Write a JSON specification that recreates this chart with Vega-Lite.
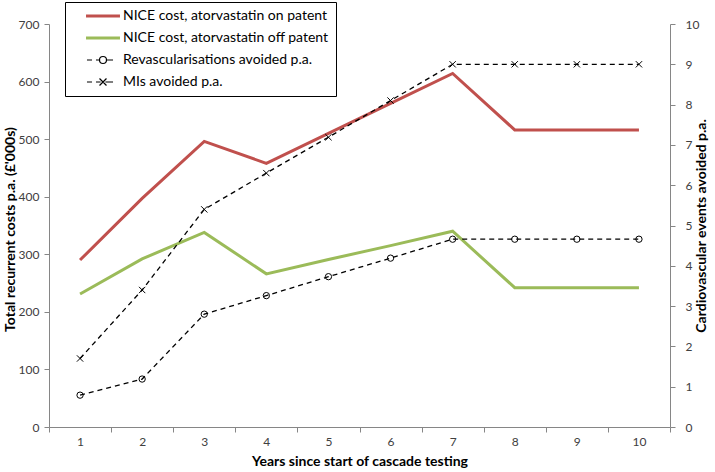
{
  "$schema": "https://vega.github.io/schema/vega-lite/v6.json",
  "width": 621,
  "height": 403,
  "autosize": "none",
  "padding": {"left": 49, "top": 24, "right": 45, "bottom": 45},
  "background": "white",
  "config": {
    "view": {"stroke": null},
    "font": "Lato",
    "axis": {
      "grid": false,
      "domainColor": "#868686",
      "tickColor": "#868686",
      "tickSize": 5,
      "labelFont": "Lato",
      "labelFontSize": 12,
      "labelColor": "#404040",
      "titleFont": "Lato",
      "titleFontSize": 14,
      "titleFontWeight": "bold",
      "titleColor": "#000000"
    }
  },
  "datasets": {
    "costs": [
      {"year": 1, "series": "NICE cost, atorvastatin on patent", "value": 290},
      {"year": 2, "series": "NICE cost, atorvastatin on patent", "value": 397},
      {"year": 3, "series": "NICE cost, atorvastatin on patent", "value": 496},
      {"year": 4, "series": "NICE cost, atorvastatin on patent", "value": 458},
      {"year": 5, "series": "NICE cost, atorvastatin on patent", "value": 510},
      {"year": 6, "series": "NICE cost, atorvastatin on patent", "value": 562},
      {"year": 7, "series": "NICE cost, atorvastatin on patent", "value": 614},
      {"year": 8, "series": "NICE cost, atorvastatin on patent", "value": 516},
      {"year": 9, "series": "NICE cost, atorvastatin on patent", "value": 516},
      {"year": 10, "series": "NICE cost, atorvastatin on patent", "value": 516},
      {"year": 1, "series": "NICE cost, atorvastatin off patent", "value": 231},
      {"year": 2, "series": "NICE cost, atorvastatin off patent", "value": 292},
      {"year": 3, "series": "NICE cost, atorvastatin off patent", "value": 338},
      {"year": 4, "series": "NICE cost, atorvastatin off patent", "value": 266},
      {"year": 5, "series": "NICE cost, atorvastatin off patent", "value": 291},
      {"year": 6, "series": "NICE cost, atorvastatin off patent", "value": 315},
      {"year": 7, "series": "NICE cost, atorvastatin off patent", "value": 340},
      {"year": 8, "series": "NICE cost, atorvastatin off patent", "value": 242},
      {"year": 9, "series": "NICE cost, atorvastatin off patent", "value": 242},
      {"year": 10, "series": "NICE cost, atorvastatin off patent", "value": 242}
    ],
    "events": [
      {"year": 1, "series": "Revascularisations avoided p.a.", "value": 0.79},
      {"year": 2, "series": "Revascularisations avoided p.a.", "value": 1.19},
      {"year": 3, "series": "Revascularisations avoided p.a.", "value": 2.8},
      {"year": 4, "series": "Revascularisations avoided p.a.", "value": 3.26},
      {"year": 5, "series": "Revascularisations avoided p.a.", "value": 3.73},
      {"year": 6, "series": "Revascularisations avoided p.a.", "value": 4.19},
      {"year": 7, "series": "Revascularisations avoided p.a.", "value": 4.66},
      {"year": 8, "series": "Revascularisations avoided p.a.", "value": 4.66},
      {"year": 9, "series": "Revascularisations avoided p.a.", "value": 4.66},
      {"year": 10, "series": "Revascularisations avoided p.a.", "value": 4.66},
      {"year": 1, "series": "MIs avoided p.a.", "value": 1.7},
      {"year": 2, "series": "MIs avoided p.a.", "value": 3.4},
      {"year": 3, "series": "MIs avoided p.a.", "value": 5.4},
      {"year": 4, "series": "MIs avoided p.a.", "value": 6.3},
      {"year": 5, "series": "MIs avoided p.a.", "value": 7.19},
      {"year": 6, "series": "MIs avoided p.a.", "value": 8.1},
      {"year": 7, "series": "MIs avoided p.a.", "value": 9.0},
      {"year": 8, "series": "MIs avoided p.a.", "value": 9.0},
      {"year": 9, "series": "MIs avoided p.a.", "value": 9.0},
      {"year": 10, "series": "MIs avoided p.a.", "value": 9.0}
    ]
  },
  "encoding": {
    "x": {
      "field": "year",
      "type": "ordinal",
      "scale": {"type": "band", "paddingInner": 0, "paddingOuter": 0},
      "axis": {
        "title": "Years since start of cascade testing",
        "labelAngle": 0,
        "tickBand": "extent",
        "labelPadding": 4,
        "titlePadding": 7
      }
    }
  },
  "layer": [
    {
      "data": {"name": "costs"},
      "mark": {"type": "line", "strokeWidth": 3},
      "encoding": {
        "y": {
          "field": "value",
          "type": "quantitative",
          "scale": {"domain": [0, 700], "nice": false},
          "axis": {
            "title": "Total recurrent costs p.a. (£'000s)",
            "orient": "left",
            "values": [0, 100, 200, 300, 400, 500, 600, 700],
            "labelPadding": 5,
            "titleX": -32,
            "titleY": 205,
            "titleBaseline": "bottom",
            "titleAlign": "center",
            "titleAngle": 270
          }
        },
        "color": {
          "field": "series",
          "type": "nominal",
          "sort": null,
          "scale": {
            "domain": ["NICE cost, atorvastatin on patent", "NICE cost, atorvastatin off patent", "Revascularisations avoided p.a.", "MIs avoided p.a."],
            "range": ["#C0504D", "#9BBB59", "#000000", "#000000"]
          },
          "legend": {
            "title": null,
            "orient": "none",
            "legendX": 16,
            "legendY": -22,
            "strokeColor": "#000000",
            "fillColor": "white",
            "padding": 7,
            "symbolOffset": 24,
            "labelOffset": 13,
            "labelFont": "Lato",
            "labelFontSize": 14,
            "labelColor": "#000000",
            "labelLimit": 400,
            "rowPadding": 8,
            "symbolSize": 144,
            "encode": {
              "symbols": {
                "update": {
                  "shape": {"signal": "datum.value === 'Revascularisations avoided p.a.' ? 'M-2.67,0H-1.83M-1.17,0H-0.58M0.58,0H1.67M0.58,0A0.58,0.58,0,1,1,-0.58,0A0.58,0.58,0,1,1,0.58,0' : datum.value === 'MIs avoided p.a.' ? 'M-2.67,0H-1.83M-1.17,0H-0.4M0.4,0H1.67M-0.58,-0.58L0.58,0.58M-0.58,0.58L0.58,-0.58' : 'M-2.83,0H2.83'"},
                  "strokeWidth": {"signal": "datum.value === 'Revascularisations avoided p.a.' || datum.value === 'MIs avoided p.a.' ? 1.2 : 3"},
                  "fill": {"value": "transparent"},
                  "strokeDash": {"value": [100, 0]}
                }
              }
            }
          }
        }
      }
    },
    {
      "data": {"name": "events"},
      "encoding": {
        "y": {
          "field": "value",
          "type": "quantitative",
          "scale": {"domain": [0, 10], "nice": false},
          "axis": {
            "title": "Cardiovascular events avoided p.a.",
            "orient": "right",
            "values": [0, 1, 2, 3, 4, 5, 6, 7, 8, 9, 10],
            "labelPadding": 10,
            "titleAngle": 270,
            "titlePadding": 10
          }
        }
      },
      "layer": [
        {
          "mark": {"type": "line", "strokeWidth": 1.3, "strokeDash": [5, 4]},
          "encoding": {
            "color": {"field": "series", "type": "nominal", "sort": null}
          }
        },
        {
          "mark": {"type": "point", "filled": false, "strokeWidth": 1, "color": "#000000", "size": 40, "opacity": 1},
          "encoding": {
            "shape": {
              "field": "series",
              "type": "nominal",
              "scale": {
                "domain": ["Revascularisations avoided p.a.", "MIs avoided p.a."],
                "range": ["circle", "M-1,-1L1,1M-1,1L1,-1"]
              },
              "legend": null
            }
          }
        }
      ]
    }
  ],
  "resolve": {"scale": {"y": "independent"}}
}
